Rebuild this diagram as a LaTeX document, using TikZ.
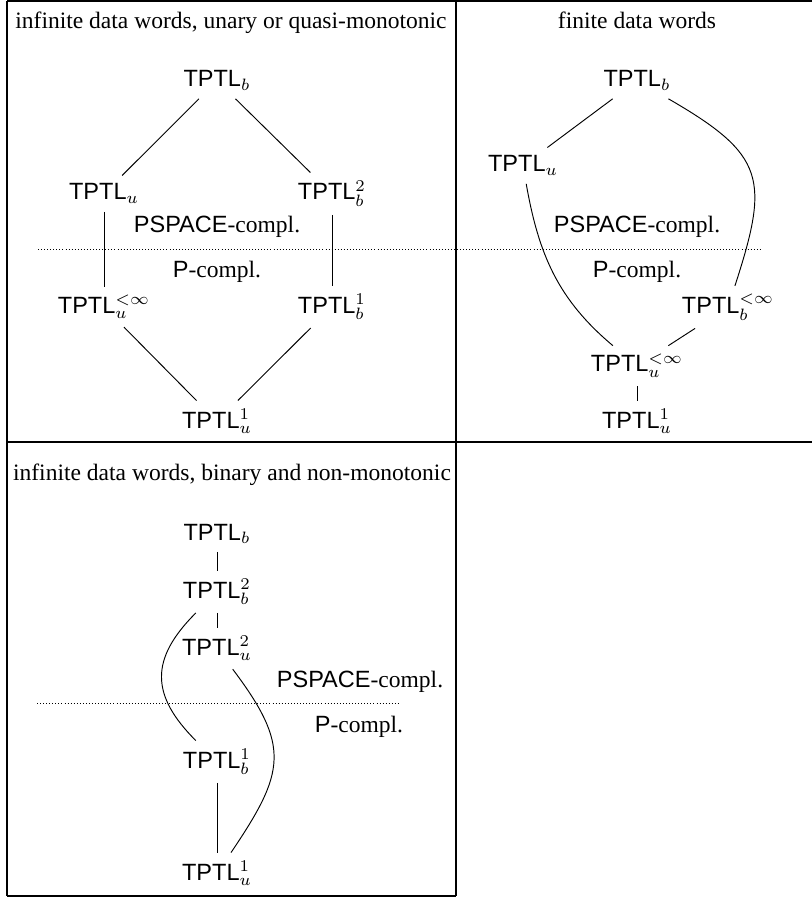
\documentclass[tikz,border=0pt]{standalone}
\usepackage[no-math]{fontspec}
\setmainfont{Liberation Serif}
\setsansfont{Liberation Sans}
\begin{document}
\begin{tikzpicture}[x=0.425pt,y=-0.425pt,
  tnode/.style={anchor=base, inner sep=3.33pt},
  lbl/.style={anchor=base, inner sep=2pt},
  edge/.style={line width=0.4pt},
  rulel/.style={line width=0.45pt},
  sepline/.style={line width=0.4pt, dash pattern=on 0.4pt off 0.9pt}]

\useasboundingbox (0,0) rectangle (812,897);

% table rules
\draw[rulel] (7,1) -- (812,1);
\draw[rulel] (7,442) -- (812,442);
\draw[rulel] (7,896) -- (456,896);
\draw[rulel] (7,1) -- (7,896);
\draw[rulel] (456,1) -- (456,896);

% headers
\node[lbl] (h1) at (231,29) {infinite data words, unary or quasi-monotonic};
\node[lbl] (h2) at (637,29) {finite data words};
\node[lbl] (h3) at (232,480) {infinite data words, binary and non-monotonic};

% separators
\coordinate (dl) at (38,249);
\coordinate (dr) at (762,249);
\draw[sepline] (dl) -- (dr);
\coordinate (el) at (37,703);
\coordinate (er) at (399,703);
\draw[sepline] (el) -- (er);

% panel A
\node[tnode] (a1) at (217,87) {\textsf{TPTL}$_b$};
\node[tnode] (a2) at (104,200) {\textsf{TPTL}$_u$};
\node[tnode] (a3) at (332,200) {\textsf{TPTL}$^2_b$};
\node[lbl] (ap) at (217,233) {\textsf{PSPACE}-compl.};
\node[lbl] (aq) at (217,278) {\textsf{P}-compl.};
\node[tnode] (a4) at (104,313) {\textsf{TPTL}$^{<\infty}_u$};
\node[tnode] (a5) at (332,313) {\textsf{TPTL}$^1_b$};
\node[tnode] (a6) at (217,428) {\textsf{TPTL}$^1_u$};
\draw[edge] (a1) -- (a2);
\draw[edge] (a1) -- (a3);
\draw[edge] (a2) -- (a4);
\draw[edge] (a3) -- (a5);
\draw[edge] (a4) -- (a6);
\draw[edge] (a5) -- (a6);

% panel B
\node[tnode] (b1) at (637,87) {\textsf{TPTL}$_b$};
\node[tnode] (b2) at (523,172) {\textsf{TPTL}$_u$};
\node[lbl] (bp) at (637,233) {\textsf{PSPACE}-compl.};
\node[lbl] (bq) at (637,278) {\textsf{P}-compl.};
\node[tnode] (b3) at (728,313) {\textsf{TPTL}$^{<\infty}_b$};
\node[tnode] (b4) at (637,372) {\textsf{TPTL}$^{<\infty}_u$};
\node[tnode] (b5) at (637,428) {\textsf{TPTL}$^1_u$};
\draw[edge] (b1) -- (b2);
\draw[edge] (b1) to[out=-30,in=72,looseness=1.45] (b3);
\draw[edge] (b2) to[out=-80,in=140] (b4);
\draw[edge] (b3) -- (b4);
\draw[edge] (b4) -- (b5);

% panel C
\node[tnode] (c1) at (217,540) {\textsf{TPTL}$_b$};
\node[tnode] (c2) at (217,598) {\textsf{TPTL}$^2_b$};
\node[tnode] (c3) at (217,655) {\textsf{TPTL}$^2_u$};
\node[lbl] (cp) at (360,687) {\textsf{PSPACE}-compl.};
\node[lbl] (cq) at (359,732) {\textsf{P}-compl.};
\node[tnode] (c4) at (217,768) {\textsf{TPTL}$^1_b$};
\node[tnode] (c5) at (217,880) {\textsf{TPTL}$^1_u$};
\draw[edge] (c1) -- (c2);
\draw[edge] (c2) -- (c3);
\draw[edge] (c4) -- (c5);
\draw[edge] (c2) to[out=-135,in=135,looseness=1.3] (c4);
\draw[edge] (c3) to[out=-53,in=56,looseness=1.35] (c5);
\end{tikzpicture}
\end{document}
